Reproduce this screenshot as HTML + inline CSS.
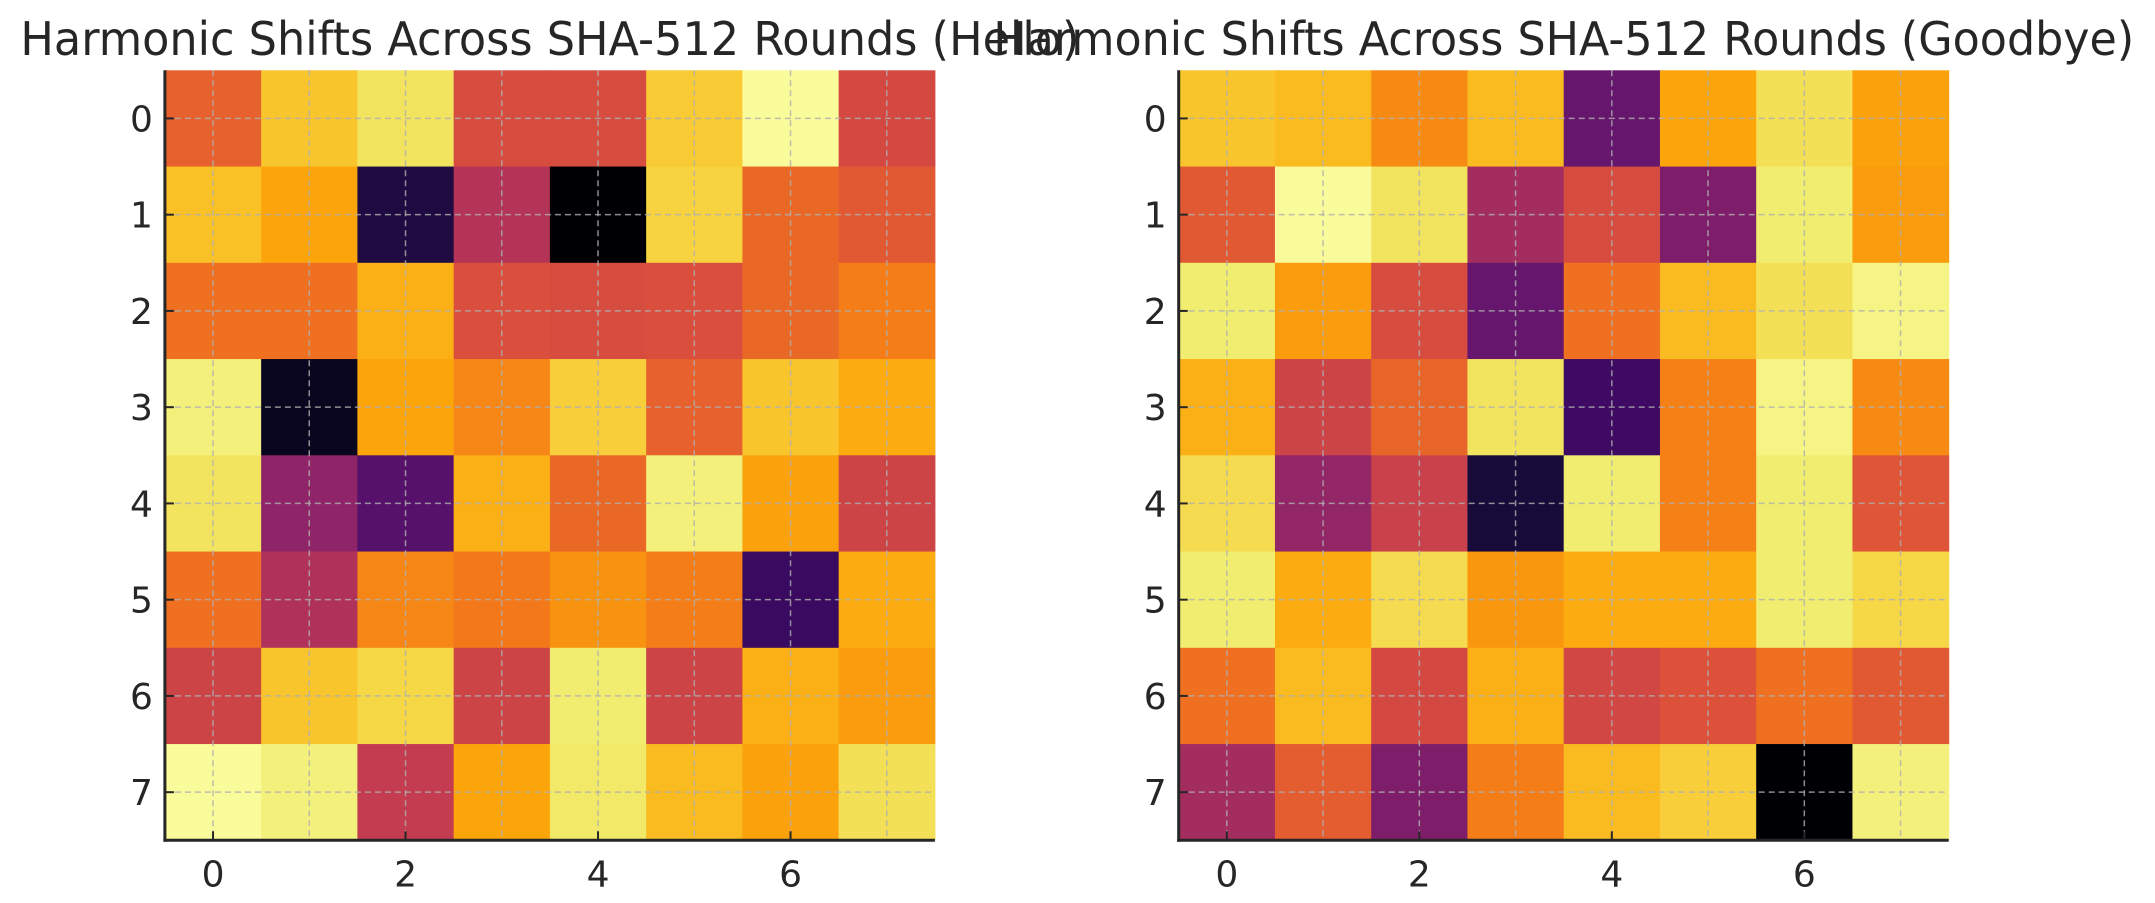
<!DOCTYPE html>
<html><head><meta charset="utf-8">
<style>
html,body{margin:0;padding:0;background:#fff;}
svg{display:block;}
text{font-family:"DejaVu Sans","Liberation Sans",sans-serif;fill:#262626;}
</style></head>
<body>
<svg id="fig" width="2155" height="903" viewBox="0 0 2155 903" xmlns="http://www.w3.org/2000/svg"></svg>
<script>
const helloValues = [
 [0.64,0.86,0.93,0.58,0.58,0.87,0.99,0.57],
 [0.85,0.80,0.12,0.48,0.00,0.89,0.66,0.62],
 [0.68,0.68,0.82,0.59,0.58,0.59,0.66,0.71],
 [0.96,0.05,0.80,0.73,0.88,0.64,0.86,0.81],
 [0.93,0.39,0.25,0.82,0.66,0.96,0.79,0.55],
 [0.68,0.47,0.73,0.70,0.76,0.71,0.18,0.81],
 [0.55,0.86,0.90,0.55,0.95,0.55,0.82,0.78],
 [0.99,0.96,0.52,0.80,0.94,0.84,0.79,0.92]
];
const goodbyeValues = [
 [0.86,0.84,0.74,0.84,0.29,0.80,0.92,0.79],
 [0.62,0.99,0.93,0.44,0.58,0.35,0.95,0.78],
 [0.95,0.78,0.58,0.29,0.68,0.84,0.92,0.97],
 [0.82,0.55,0.65,0.93,0.19,0.72,0.97,0.74],
 [0.91,0.40,0.54,0.10,0.95,0.72,0.95,0.61],
 [0.95,0.81,0.91,0.77,0.81,0.81,0.95,0.90],
 [0.68,0.84,0.57,0.82,0.56,0.60,0.68,0.62],
 [0.44,0.63,0.35,0.71,0.84,0.88,0.00,0.96]
];
const xTickLabels = [0,2,4,6];
const yTickLabels = [0,1,2,3,4,5,6,7];
const titles = ["Harmonic Shifts Across SHA-512 Rounds (Hello)","Harmonic Shifts Across SHA-512 Rounds (Goodbye)"];

const stopPos=[0,0.1,0.2,0.3,0.4,0.5,0.6,0.7,0.8,0.85,0.9,0.95,1.0];
const stops=["#000004","#160b39","#420a68","#6a176e","#932667","#bc3754","#dd513a","#f37819","#fca50a","#fac127","#f6d746","#f1ed71","#fcffa4"];
function hex(h){return [1,3,5].map(i=>parseInt(h.substr(i,2),16));}
function inferno(v){v=Math.max(0,Math.min(1,v));let i=0;while(i<stopPos.length-2&&v>stopPos[i+1])i++;
 const t=(v-stopPos[i])/(stopPos[i+1]-stopPos[i]);
 const a=hex(stops[i]),b=hex(stops[i+1]);return "rgb("+a.map((c,k)=>Math.round(c+(b[k]-c)*t)).join(",")+")";}
const NS="http://www.w3.org/2000/svg";
const svg=document.getElementById("fig");
function mk(tag,attrs,parent){const e=document.createElementNS(NS,tag);for(const k in attrs)e.setAttribute(k,attrs[k]);(parent||svg).appendChild(e);return e;}

function drawPanel(values,left,title,titleW,name){
 const top=70.3,size=770,n=values.length,cell=size/n;
 const g=mk("g",{});
 
 
 const xs=c=>left+(c+0.5)*cell, ys=r=>top+(r+0.5)*cell;
 values.forEach((row,r)=>row.forEach((v,c)=>{
  const rc=mk("rect",{x:xs(c)-cell/2,y:ys(r)-cell/2,width:cell+0.5,height:cell+0.5,fill:inferno(v)},g);
  
  
 }));
 for(let i=0;i<n;i++){
  const gl=mk("line",{x1:left,x2:left+size,y1:ys(i),y2:ys(i),stroke:"#b0b0b0","stroke-width":1.5,"stroke-dasharray":"6,4",opacity:0.8},g);
  
  
  const gv=mk("line",{y1:top,y2:top+size,x1:xs(i),x2:xs(i),stroke:"#b0b0b0","stroke-width":1.5,"stroke-dasharray":"6,4",opacity:0.8},g);
  
  
 }
 const sl=mk("line",{x1:left,x2:left,y1:top,y2:top+size+1.5,stroke:"#262626","stroke-width":3},g);
 
 
 const sb=mk("line",{x1:left-1.5,x2:left+size,y1:top+size,y2:top+size,stroke:"#262626","stroke-width":3},g);
 
 
 yTickLabels.forEach(t=>{
  mk("line",{x1:left,x2:left+9,y1:ys(t),y2:ys(t),stroke:"#262626","stroke-width":2},g);
  const tx=mk("text",{x:left-12,y:ys(t)+13,"font-size":36,"text-anchor":"end"},g);
  tx.textContent=t;
  
  
 });
 xTickLabels.forEach(t=>{
  mk("line",{x1:xs(t),x2:xs(t),y1:top+size,y2:top+size-9,stroke:"#262626","stroke-width":2},g);
  const tx=mk("text",{x:xs(t),y:top+size+46,"font-size":36,"text-anchor":"middle"},g);
  tx.textContent=t;
  
  
 });
 const tt=mk("text",{x:left+size/2,y:55,"font-size":46,"text-anchor":"middle",textLength:titleW,lengthAdjust:"spacingAndGlyphs"},g);
 tt.textContent=title;
 
 
}
drawPanel(helloValues,164.9,titles[0],1059,"hello-heatmap");
drawPanel(goodbyeValues,1178.7,titles[1],1141,"goodbye-heatmap");
</script>
</body></html>
